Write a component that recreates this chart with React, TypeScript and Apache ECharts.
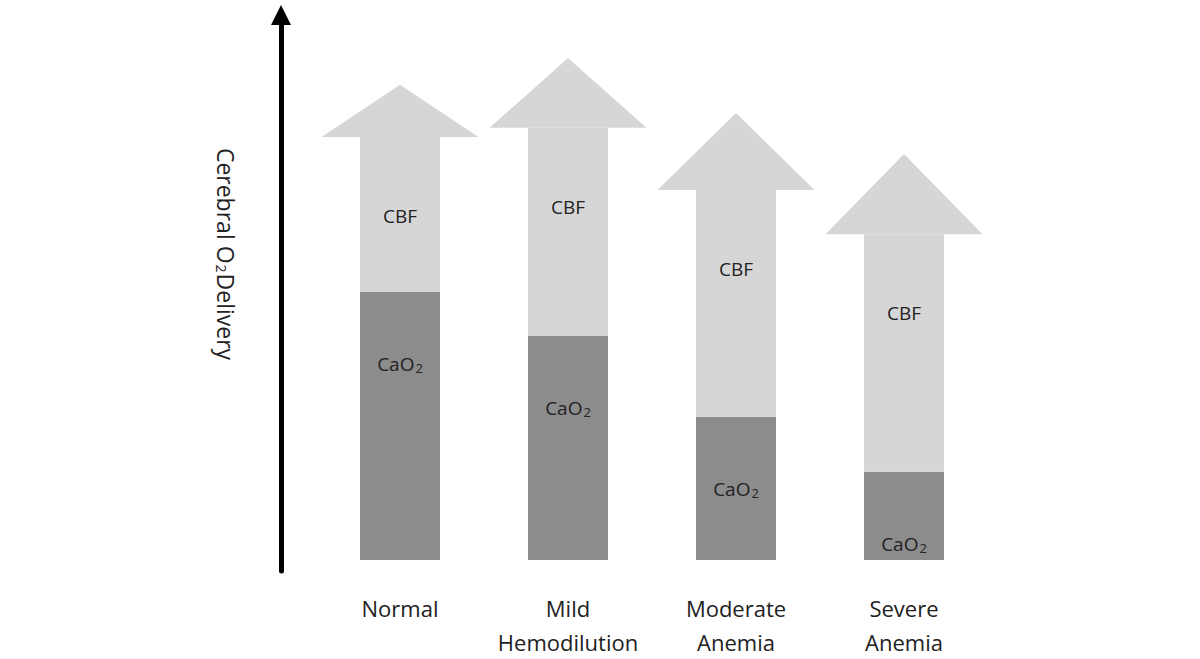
import React, { useEffect, useRef } from "react";
import * as echarts from "echarts";

const categories = ["Normal", "Mild\nHemodilution", "Moderate\nAnemia", "Severe\nAnemia"];
// Arterial O2 content (dark lower segment)
const cao2Values = [49.2, 41.1, 26.3, 16.2];
// Cerebral blood flow (light shaft segment, stacked on CaO2)
const cbfValues = [28.4, 38.2, 41.6, 43.6];
// Arrow tip level (total cerebral O2 delivery)
const tipValues = [87.2, 92.1, 82.0, 74.5];

const FONT = "'Open Sans', 'Noto Sans', sans-serif";
const LIGHT = "#d6d6d6";
const DARK = "#8c8c8c";
const TEXT = "#222222";

export default function App() {
  const ref = useRef<HTMLDivElement>(null);

  useEffect(() => {
    if (!ref.current) return;
    const chart = echarts.init(ref.current, null, { renderer: "svg" });

    const shaftTops = cao2Values.map((v, i) => v + cbfValues[i]);
    const headData = categories.map((_, i) => [i, shaftTops[i], tipValues[i]]);

    const option: any = {
      animation: false,
      backgroundColor: "#ffffff",
      grid: { left: 316, right: 212, top: 15, bottom: 88, containLabel: false, outerBoundsMode: "none" },
      xAxis: {
        type: "category",
        data: categories,
        axisLine: { show: false, onZero: true },
        axisTick: { show: false },
        axisLabel: {
          fontFamily: FONT,
          fontSize: 22,
          lineHeight: 34,
          color: TEXT,
          margin: 20,
          interval: 0,
        },
        splitLine: { show: false },
      },
      yAxis: {
        type: "value",
        min: -2,
        max: 100,
        offset: 35,
        axisLine: {
          show: true,
          onZero: false,
          symbol: ["none", "triangle"],
          symbolSize: [20, 20],
          lineStyle: { color: "#000000", width: 5 },
        },
        axisTick: { show: false },
        axisLabel: { show: false },
        splitLine: { show: false },
      },
      series: [
        {
          name: "CaO2",
          type: "bar",
          stack: "o2",
          barWidth: 80,
          data: cao2Values,
          itemStyle: { color: DARK },
          label: {
            show: true,
            position: ["50%", 72],
            align: "center",
            verticalAlign: "middle",
            formatter: () => "{a|CaO}{s|2}",
            rich: {
              a: { fontFamily: FONT, fontSize: 19, color: TEXT },
              s: { fontFamily: FONT, fontSize: 13, color: TEXT, verticalAlign: "bottom", padding: [8, 0, 0, 1] },
            },
          },
        },
        {
          name: "CBF",
          type: "bar",
          stack: "o2",
          barWidth: 80,
          data: cbfValues,
          itemStyle: { color: LIGHT },
          label: {
            show: true,
            position: ["50%", 79],
            align: "center",
            verticalAlign: "middle",
            formatter: "CBF",
            fontFamily: FONT,
            fontSize: 19,
            color: TEXT,
          },
        },
        {
          name: "Head",
          type: "custom",
          data: headData,
          encode: { x: 0, y: [1, 2] },
          renderItem: (params: any, api: any) => {
            const idx = api.value(0);
            const base = api.coord([idx, api.value(1)]);
            const tip = api.coord([idx, api.value(2)]);
            const half = 78.5;
            return {
              type: "polygon",
              shape: {
                points: [
                  [base[0] - half, base[1]],
                  [tip[0], tip[1]],
                  [base[0] + half, base[1]],
                ],
              },
              style: { fill: LIGHT },
            };
          },
        },
      ],
      graphic: [
        {
          type: "text",
          x: 226,
          y: 254,
          rotation: -Math.PI / 2,
          style: {
            text: "{a|Cerebral O}{s|2}{a|Delivery}",
            align: "center",
            verticalAlign: "middle",
            rich: {
              a: { fontFamily: FONT, fontSize: 23, fill: TEXT, color: TEXT },
              s: { fontFamily: FONT, fontSize: 14, fill: TEXT, color: TEXT, verticalAlign: "bottom", padding: [8, 1, 0, 1] },
            },
          },
        },
      ],
    };

    chart.setOption(option);
    return () => chart.dispose();
  }, []);

  return (
    <div
      ref={ref}
      style={{ position: "fixed", left: 0, top: 0, width: 1200, height: 659, background: "#fff" }}
    />
  );
}
